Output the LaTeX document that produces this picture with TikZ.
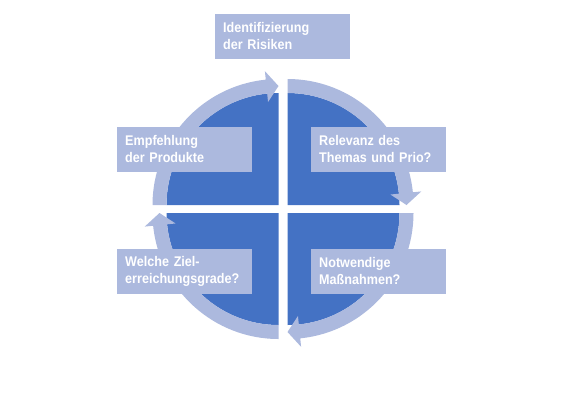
\documentclass[tikz,border=0pt]{standalone}
\usepackage{fontspec}
\setmainfont[FakeStretch=0.9]{Liberation Sans}
\definecolor{bluec}{RGB}{68,114,196}
\definecolor{ringc}{RGB}{172,185,222}
\newcommand\cquad[3]{%
\begin{scope}[shift={#1}]
\fill[bluec] (0,0) -- (#2:112) arc[start angle=#2, end angle=#3, radius=112] -- cycle;
\fill[ringc] (#2:112) -- (#2:126) arc[start angle=#2, end angle={#3-5.8}, radius=126]
  -- ({#3-5.8}:134.5) -- (#3:119) -- ({#3-5.8}:103.5) -- ({#3-5.8}:112)
  arc[start angle={#3-5.8}, end angle=#2, radius=112] -- cycle;
\end{scope}}
\begin{document}
\begin{tikzpicture}[x=1bp,y=-1bp,
  lbox/.style={fill=ringc, text=white, anchor=north west, minimum width=135bp,
    minimum height=45bp, text width=119bp, inner xsep=8bp, inner ysep=0pt,
    align=left, font=\fontsize{14bp}{17.5bp}\selectfont\bfseries}]
\useasboundingbox (0,0) rectangle (566,400);
\cquad{(278.5,205)}{180}{270}
\cquad{(287.5,205)}{270}{360}
\cquad{(287.5,213)}{0}{90}
\cquad{(278.5,213)}{90}{180}
\node[lbox] (ident) at (215,13.3) {Identifizierung\\der Risiken};
\node[lbox] (empf) at (117,126.5) {Empfehlung\\der Produkte};
\node[lbox] (rel) at (311,126.5) {Relevanz des\\Themas und Prio?};
\node[lbox] (notw) at (311,248.5) {Notwendige\\Maßnahmen?};
\node[lbox] (welche) at (117,248.5) {Welche Ziel-\\erreichungsgrade?};
\end{tikzpicture}
\end{document}
